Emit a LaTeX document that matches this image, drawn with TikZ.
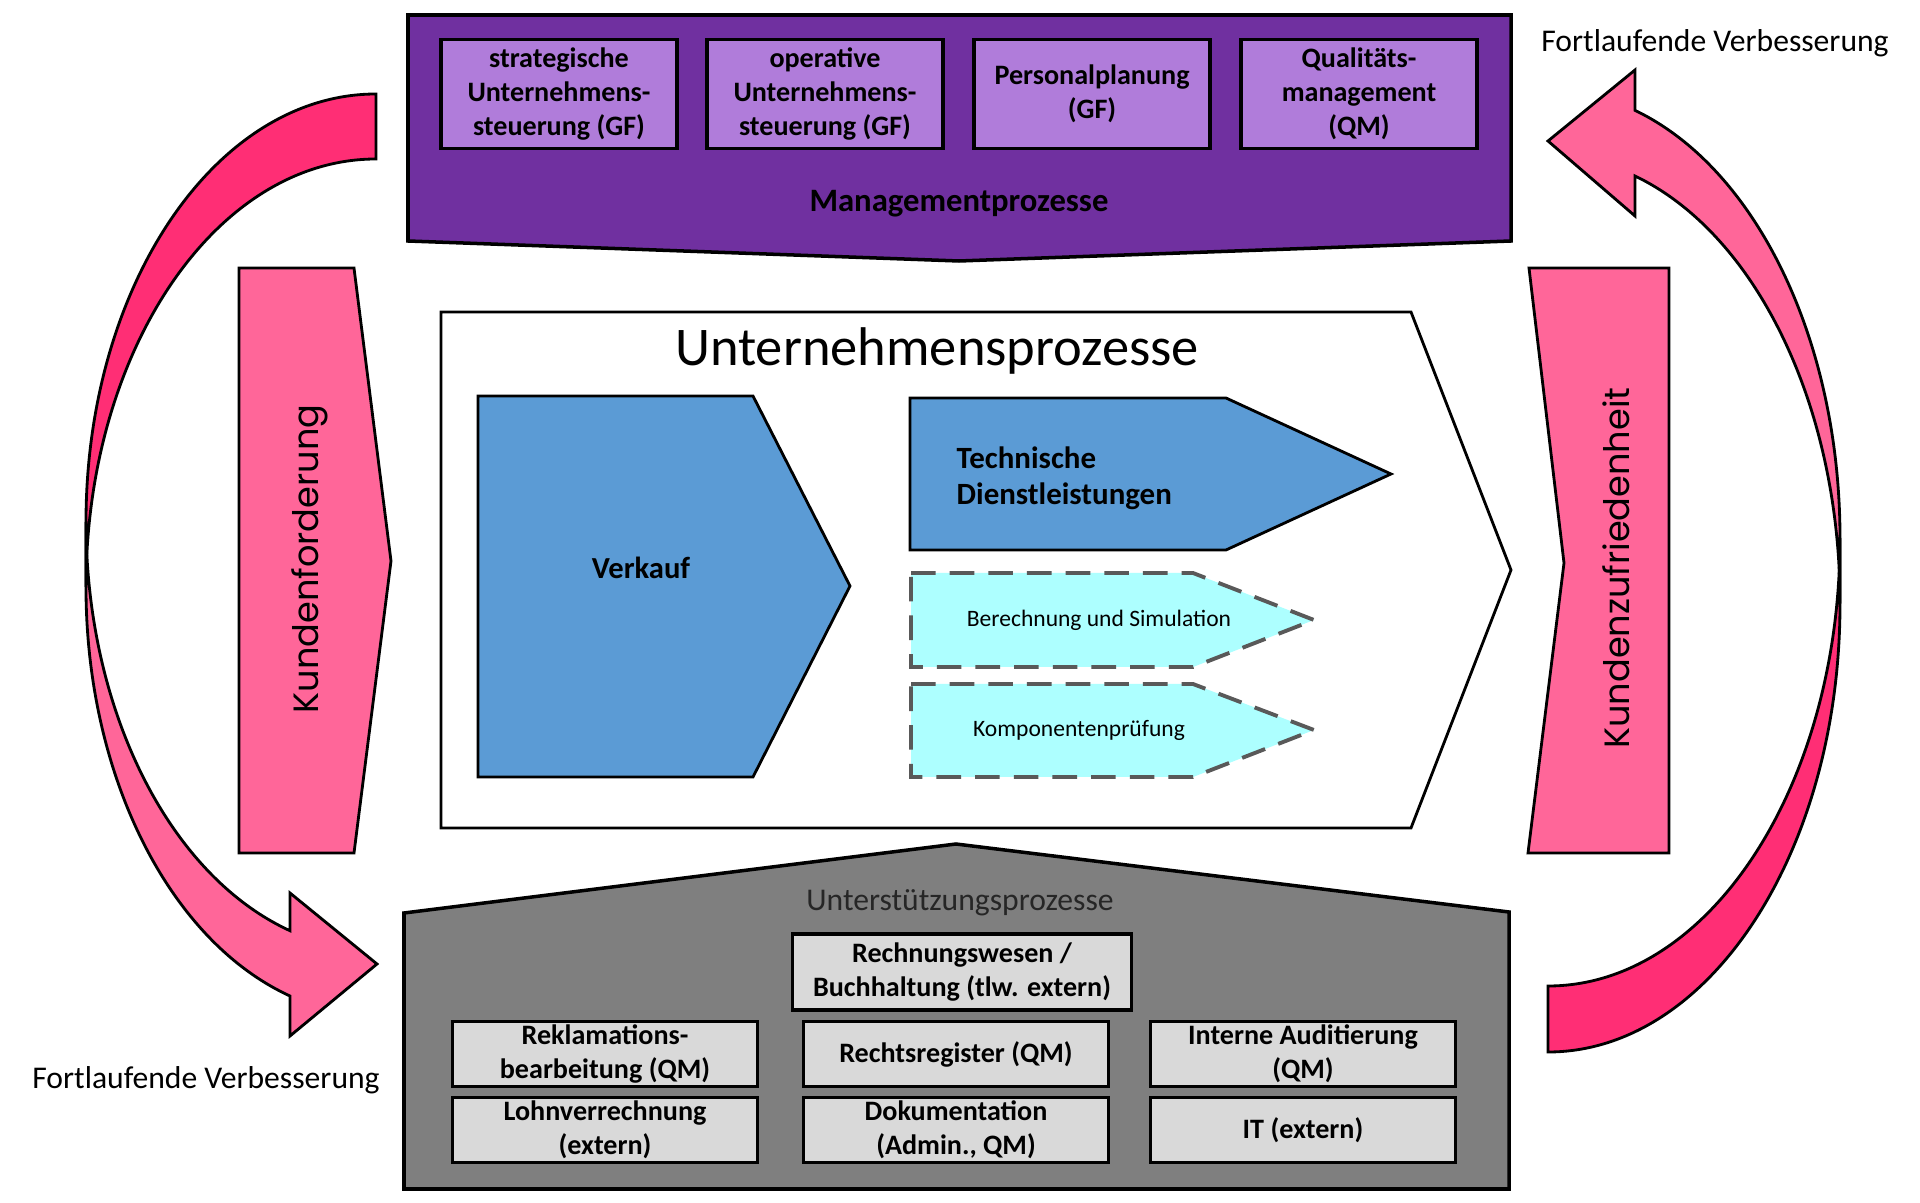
\documentclass[tikz,border=0pt]{standalone}
\usepackage{fontspec}
\setmainfont{Carlito}
\newfontfamily\geofont{Poppins}

\definecolor{mgmtpurple}{HTML}{7030A0}
\definecolor{mgmtlight}{HTML}{B07CDA}
\definecolor{procblue}{HTML}{5B9BD5}
\definecolor{subcyan}{HTML}{ADFFFF}
\definecolor{kundenpink}{HTML}{FF6699}
\definecolor{loopdark}{HTML}{FF2E75}
\definecolor{supgray}{HTML}{7F7F7F}
\definecolor{boxgray}{HTML}{D9D9D9}

\tikzset{
	outline/.style={draw=black, line width=0.8pt, line join=miter},
	mgmtbox/.style={outline, line width=1pt, fill=mgmtlight, minimum width=23.6mm, minimum height=10.9mm, inner sep=0pt, align=center, font=\bfseries\fontsize{8}{9.7}\selectfont},
	supbox/.style={outline, line width=1pt, fill=boxgray, minimum width=30.5mm, minimum height=6.5mm, inner sep=0pt, align=center, font=\bfseries\fontsize{8}{9.7}\selectfont},
	subproc/.style={fill=subcyan, draw=black!65, line width=1.1pt, dash pattern=on 7pt off 4pt},
	sidelabel/.style={rotate=90, inner sep=0pt, font=\geofont\fontsize{10}{12}\selectfont},
	looplabel/.style={anchor=base, inner sep=0pt, font=\fontsize{9}{11}\selectfont},
}

\begin{document}
\begin{tikzpicture}[x=0.1mm, y=-0.1mm]
	\useasboundingbox (0,0) rectangle (1920,1203);

	% Managementprozesse
	\draw[outline, line width=1pt, fill=mgmtpurple] (408,15) -- (1511,15) -- (1511,241) -- (959,261) -- (408,241) -- cycle;
	\node[mgmtbox] (strat) at (559,94) {strategische\\Unternehmens-\\steuerung (GF)};
	\node[mgmtbox] (oper) at (825,94) {operative\\Unternehmens-\\steuerung (GF)};
	\node[mgmtbox] (personal) at (1092,94) {Personalplanung\\(GF)};
	\node[mgmtbox] (quali) at (1359,94) {Qualitäts-\\management\\(QM)};
	\node[anchor=base, inner sep=0pt, font=\bfseries\fontsize{9.3}{11}\selectfont] (mgmttitle) at (959,212) {Managementprozesse};

	% Fortlaufende Verbesserung, links
	\draw[outline, fill=loopdark] (376,94) arc[start angle=270, end angle=180, x radius=290, y radius=428]
		-- (86,587) arc[start angle=180, end angle=270, x radius=290, y radius=428] -- cycle;
	\draw[outline, fill=kundenpink] (86,522) arc[start angle=180, end angle=107.25, x radius=290, y radius=428]
		-- (290,893) -- (377,964) -- (290,1036) -- (290,996)
		arc[start angle=107.25, end angle=180, x radius=290, y radius=428] -- cycle;
	\node[looplabel] (fvbottom) at (206,1088) {Fortlaufende Verbesserung};

	% Fortlaufende Verbesserung, rechts
	\draw[outline, fill=loopdark] (1548,1052) arc[start angle=90, end angle=0, x radius=292, y radius=448]
		-- (1840,538) arc[start angle=0, end angle=90, x radius=292, y radius=448] -- cycle;
	\draw[outline, fill=kundenpink] (1840,538) arc[start angle=0, end angle=-72.67, x radius=292, y radius=448]
		-- (1635,70) -- (1548,141) -- (1635,216) -- (1635,176)
		arc[start angle=-72.67, end angle=0, x radius=292, y radius=448] -- cycle;
	\node[looplabel] (fvtop) at (1715,52) {Fortlaufende Verbesserung};

	% Kunde
	\draw[outline, fill=kundenpink] (239,268) -- (354,268) -- (391,561) -- (354,853) -- (239,853) -- cycle;
	\node[sidelabel] (kundenford) at (310,559) {Kundenforderung};
	\draw[outline, fill=kundenpink] (1529,268) -- (1669,268) -- (1669,853) -- (1528,853) -- (1564,563) -- cycle;
	\node[sidelabel] (kundenzufr) at (1616,568) {Kundenzufriedenheit};

	% Unternehmensprozesse
	\draw[outline, fill=white] (441,312) -- (1411,312) -- (1511,570) -- (1411,828) -- (441,828) -- cycle;
	\node[anchor=base, inner sep=0pt, font=\fontsize{15.5}{18}\selectfont] (untitle) at (937,366) {Unternehmensprozesse};
	\draw[outline, fill=procblue] (478,396) -- (753,396) -- (850,586) -- (753,777) -- (478,777) -- cycle;
	\node[anchor=base, inner sep=0pt, font=\bfseries\fontsize{8.7}{10.5}\selectfont] (verkauf) at (641,579) {Verkauf};
	\draw[outline, fill=procblue] (910,398) -- (1226,398) -- (1391,474) -- (1226,550) -- (910,550) -- cycle;
	\node[anchor=west, inner sep=0pt, align=left, font=\bfseries\fontsize{8.8}{10.3}\selectfont] (technik) at (956,478) {Technische\\Dienstleistungen};
	\draw[subproc] (911,573) -- (1193,573) -- (1314,620) -- (1193,667) -- (911,667) -- cycle;
	\node[inner sep=0pt, font=\fontsize{6.7}{8}\selectfont] (berechnung) at (1099,620) {Berechnung und Simulation};
	\draw[subproc] (911,684) -- (1193,684) -- (1314,730) -- (1193,777) -- (911,777) -- cycle;
	\node[inner sep=0pt, font=\fontsize{6.7}{8}\selectfont] (komponenten) at (1079,730) {Komponentenprüfung};

	% Unterstuetzungsprozesse
	\draw[outline, line width=1pt, fill=supgray] (404,913) -- (956,844) -- (1509,912) -- (1509,1189) -- (404,1189) -- cycle;
	\node[anchor=base, inner sep=0pt, text=black!85, font=\fontsize{9}{11}\selectfont] (suptitle) at (960,911) {Unterstützungsprozesse};
	\node[supbox, minimum width=33.9mm, minimum height=7.6mm] (rechnung) at (962,972) {Rechnungswesen /\\Buchhaltung (tlw. extern)};
	\node[supbox] (reklamation) at (605,1054) {Reklamations-\\bearbeitung (QM)};
	\node[supbox] (rechtsreg) at (956,1054) {Rechtsregister (QM)};
	\node[supbox] (audit) at (1303,1054) {Interne Auditierung\\(QM)};
	\node[supbox] (lohn) at (605,1130) {Lohnverrechnung\\(extern)};
	\node[supbox] (doku) at (956,1130) {Dokumentation\\(Admin., QM)};
	\node[supbox] (it) at (1303,1130) {IT (extern)};
\end{tikzpicture}
\end{document}
